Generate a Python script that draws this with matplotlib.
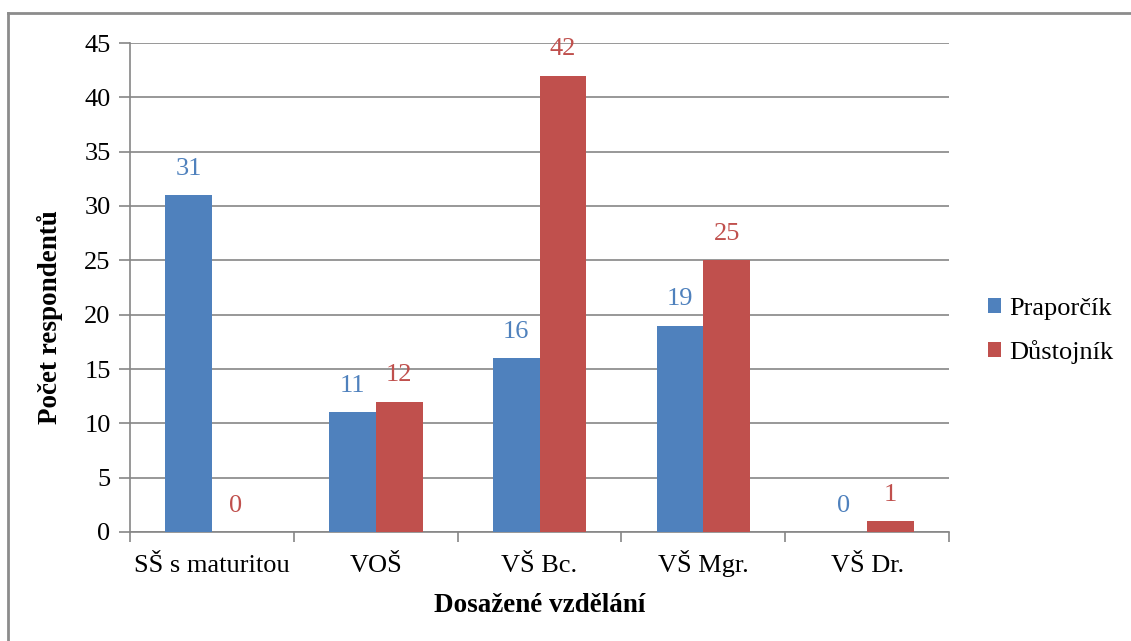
import numpy as np
import matplotlib.pyplot as plt
from matplotlib.lines import Line2D

plt.rcParams['font.family'] = ['Liberation Serif', 'DejaVu Serif']

categories = ['SŠ s maturitou', 'VOŠ', 'VŠ Bc.', 'VŠ Mgr.', 'VŠ Dr.']
praporcik = [31, 11, 16, 19, 0]
dustojnik = [0, 12, 42, 25, 1]
series_names = ['Praporčík', 'Důstojník']
colors = ['#4F81BD', '#C0504D']
yticks = [0, 5, 10, 15, 20, 25, 30, 35, 40, 45]

W, H = 1131, 641
fig = plt.figure(figsize=(W / 100, H / 100), dpi=100)
ax = fig.add_axes([130 / W, 1 - 532 / H, 819 / W, 489 / H])

x = np.arange(len(categories))
w = 1 / 3.5
grid_c = '#868686'
fs = 19

for i, (vals, col) in enumerate(zip([praporcik, dustojnik], colors)):
    pos = x + (i - 0.5) * w
    ax.bar(pos, vals, width=w, color=col, label=series_names[i], zorder=3)
    for p, v in zip(pos, vals):
        ax.annotate(str(v), (p, v), xytext=(0, 11), textcoords='offset points',
                    ha='center', va='bottom', fontsize=fs, color=col)

ax.set_xlim(-0.5, len(categories) - 0.5)
ax.set_ylim(0, 45)
ax.set_yticks(yticks)
ax.yaxis.grid(True, color=grid_c, linewidth=1.2, zorder=0)

# category ticks sit between groups, names drawn on a common baseline
ax.set_xticks(np.arange(len(categories) + 1) - 0.5)
ax.set_xticklabels([])
for xi, name in zip(x, categories):
    ax.annotate(name, (xi, 0), xycoords=('data', 'axes fraction'),
                xytext=(0, -28.5), textcoords='offset points',
                ha='center', va='baseline', fontsize=fs)
ax.tick_params(axis='x', length=7, width=1.2, color=grid_c, direction='out')
ax.tick_params(axis='y', length=8, width=1.2, color=grid_c, labelsize=fs, pad=6)

for s in ['top', 'right']:
    ax.spines[s].set_visible(False)
for s in ['left', 'bottom']:
    ax.spines[s].set_color(grid_c)
    ax.spines[s].set_linewidth(1.2)

fig.text(50 / W, 1 - 317 / H, 'Počet respondentů', rotation=90, fontsize=19.5,
         fontweight='bold', ha='center', va='center')
fig.text(539.5 / W, 1 - 612 / H, 'Dosažené vzdělání', fontsize=19.5,
         fontweight='bold', ha='center', va='baseline')

ax.legend(loc='center left', bbox_to_anchor=(988 / W, 1 - 331 / H),
          bbox_transform=fig.transFigure, frameon=False, fontsize=fs,
          borderpad=0, borderaxespad=0, handlelength=0.5, handleheight=0.5,
          handletextpad=0.3, labelspacing=0.75)

# outer chart frame
fig.add_artist(Line2D([8 / W, 8 / W], [0, 1 - 13 / H], color='#8c8c8c', linewidth=2))
fig.add_artist(Line2D([8 / W, 1], [1 - 13 / H, 1 - 13 / H], color='#8c8c8c', linewidth=2))

fig.savefig('out.png', dpi=100)
